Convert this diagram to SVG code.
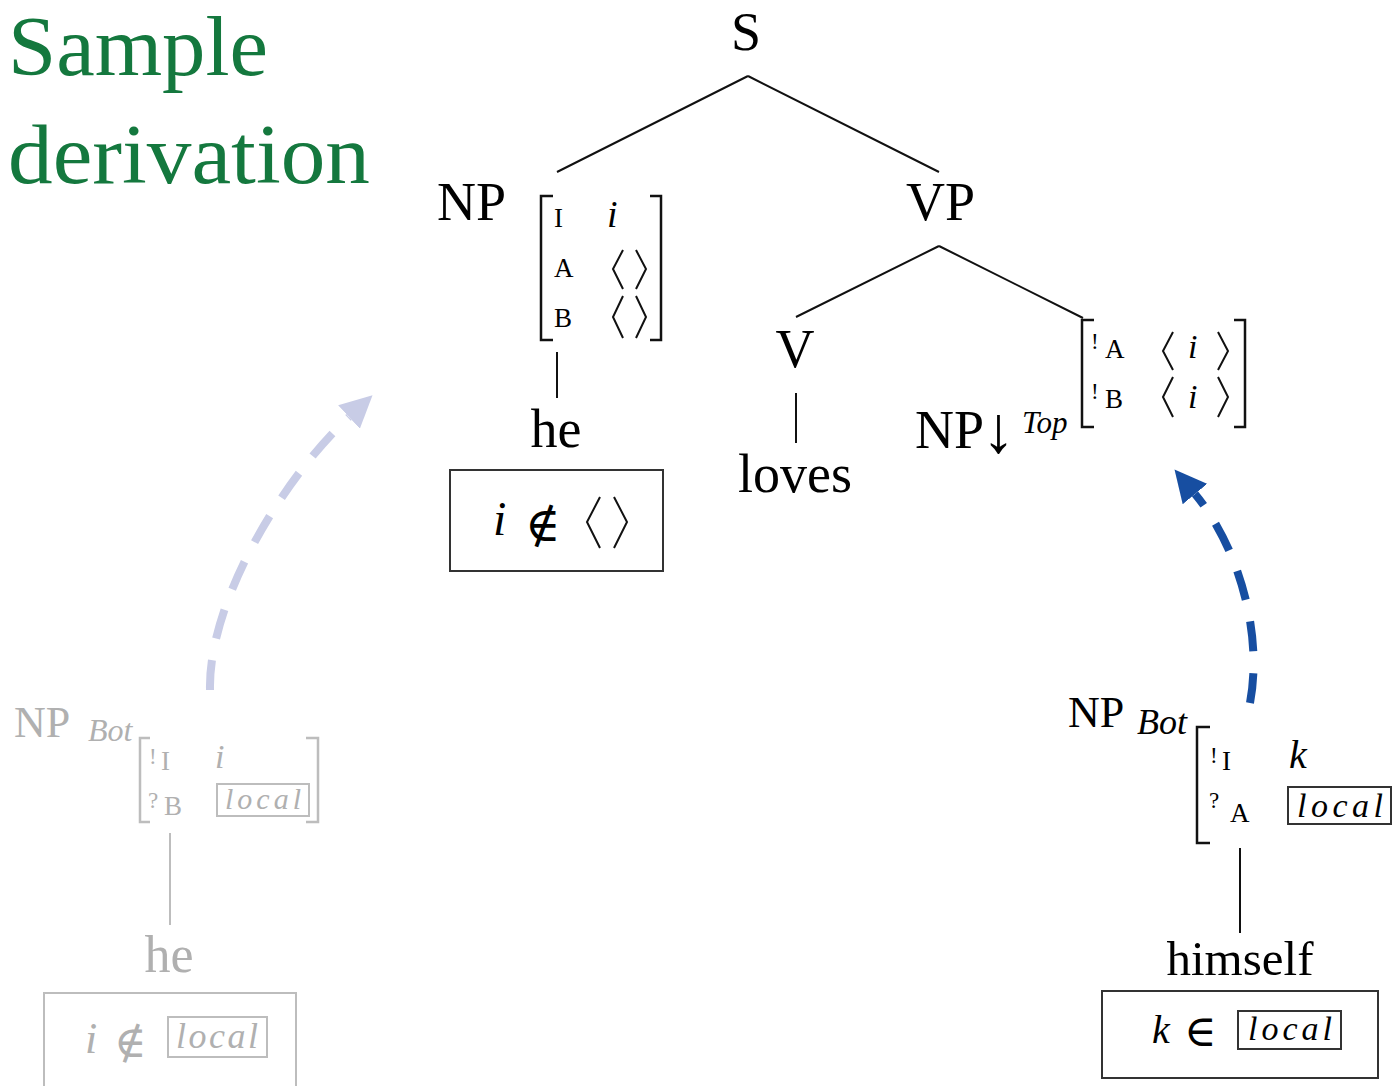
<svg xmlns="http://www.w3.org/2000/svg" width="1393" height="1086" viewBox="0 0 1393 1086">
<style>
text{font-family:"Liberation Serif","Times New Roman",serif;fill:#000}
.title{font-size:84px;fill:#14783e}
.cat{font-size:54px}
.sm{font-size:27px}
.sup{font-size:23px}
.it{font-style:italic}
.math{font-family:"DejaVu Sans","DejaVu Serif",sans-serif;font-weight:200}
.line{stroke:#111;stroke-width:2;fill:none}
.br{stroke:#111;stroke-width:2.5;fill:none}
.ang{stroke:#111;stroke-width:2;fill:none}
.box{stroke:#333;stroke-width:2;fill:none}
.grey text{fill:#b0b0b0}
.grey .line,.grey .br,.grey .box{stroke:#bdbdbd}
</style>
<defs>
<marker id="ahL" markerUnits="userSpaceOnUse" viewBox="0 0 32 32" refX="0" refY="16" markerWidth="32" markerHeight="32" orient="auto"><path d="M0,0 L32,16 L0,32 z" fill="#c8cce6"/></marker>
<marker id="ahB" markerUnits="userSpaceOnUse" viewBox="0 0 32 32" refX="0" refY="16" markerWidth="32" markerHeight="32" orient="auto"><path d="M0,0 L32,16 L0,32 z" fill="#174ea1"/></marker>
</defs>

<g id="title">
<text class="title" x="8" y="75" textLength="260" lengthAdjust="spacingAndGlyphs">Sample</text>
<text class="title" x="8" y="183" textLength="362" lengthAdjust="spacingAndGlyphs">derivation</text>
</g>

<g id="connectors">
<path class="line" d="M748,76 L557,172 M748,76 L939,172"/>
<path class="line" d="M939,246 L796,317 M939,246 L1083,318"/>
<path class="line" d="M557,352 V398"/>
<path class="line" d="M796,393 V443"/>
<path class="line" d="M1240,848 V933"/>
<path d="M170,833 V925" stroke="#bdbdbd" stroke-width="2" fill="none"/>
<path d="M210,690 C208,600 285,476 349,417" stroke="#c8cce6" stroke-width="8" fill="none" stroke-dasharray="30 22" marker-end="url(#ahL)"/>
<path d="M1250,703 C1264,628 1235,542 1195,494" stroke="#174ea1" stroke-width="8" fill="none" stroke-dasharray="30 22" marker-end="url(#ahB)"/>
</g>

<g id="node-S">
<text class="cat" x="746" y="50" text-anchor="middle">S</text>
</g>

<g id="node-NP">
<text class="cat" x="437" y="220">NP</text>
<path class="br" d="M553,196 H541 V340 H553 M650,196 H661 V340 H650"/>
<text class="sm" x="554" y="227">I</text>
<text class="sm" x="554" y="277">A</text>
<text class="sm" x="554" y="327">B</text>
<text class="it" x="607" y="227" font-size="38">i</text>
<polyline class="ang" points="623,250 613,269 623,289"/>
<polyline class="ang" points="636,250 646,269 636,289"/>
<polyline class="ang" points="623,296 613,317 623,338"/>
<polyline class="ang" points="636,296 646,317 636,338"/>
</g>

<g id="node-he">
<text class="cat" x="556" y="447" text-anchor="middle">he</text>
<rect class="box" x="450" y="470" width="213" height="101"/>
<text class="it" x="493" y="535" font-size="48">i</text>
<text class="math" x="525" y="541" font-size="48">∉</text>
<polyline class="ang" points="600,497 587,522 600,548"/>
<polyline class="ang" points="614,497 627,522 614,548"/>
</g>

<g id="node-VP">
<text class="cat" x="906" y="220">VP</text>
</g>

<g id="node-V">
<text class="cat" x="795" y="367" text-anchor="middle">V</text>
</g>

<g id="node-loves">
<text class="cat" x="795" y="492" text-anchor="middle">loves</text>
</g>

<g id="node-NPTop">
<text class="cat" x="915" y="448">NP</text>
<text x="982" y="452" font-size="66">↓</text>
<text class="it" x="1022" y="433" font-size="31">Top</text>
<path class="br" d="M1094,320 H1082 V427 H1094 M1234,320 H1245 V427 H1234"/>
<text class="sup" x="1091" y="349">!</text>
<text class="sm" x="1105" y="358">A</text>
<text class="sup" x="1091" y="399">!</text>
<text class="sm" x="1105" y="408">B</text>
<text class="it" x="1188" y="358" font-size="34">i</text>
<text class="it" x="1188" y="408" font-size="34">i</text>
<polyline class="ang" points="1173,332 1163,351 1173,370"/>
<polyline class="ang" points="1218,332 1228,351 1218,370"/>
<polyline class="ang" points="1173,377 1163,397 1173,417"/>
<polyline class="ang" points="1218,377 1228,397 1218,417"/>
</g>

<g id="node-NPBot-grey" class="grey">
<text x="14" y="737" font-size="44">NP</text>
<text class="it" x="88" y="741" font-size="32">Bot</text>
<path class="br" d="M150,738 H140 V822 H150 M306,738 H318 V822 H306"/>
<text class="sup" x="149" y="764">!</text>
<text class="sm" x="161" y="770">I</text>
<text class="it" x="215" y="768" font-size="34">i</text>
<text class="sup" x="148" y="808">?</text>
<text class="sm" x="164" y="815">B</text>
<rect class="box" x="217" y="784" width="92" height="32" stroke-width="1.5"/>
<text class="it" x="225" y="809" font-size="30" textLength="76" lengthAdjust="spacing">local</text>
</g>

<g id="node-he-grey" class="grey">
<text x="169" y="972" font-size="52" text-anchor="middle">he</text>
<rect class="box" x="44" y="993" width="252" height="100"/>
<text class="it" x="85" y="1053" font-size="44">i</text>
<text class="math" x="114" y="1057" font-size="44">∉</text>
<rect class="box" x="168" y="1017" width="99" height="40" stroke-width="1.5"/>
<text class="it" x="176" y="1048" font-size="36" textLength="82" lengthAdjust="spacing">local</text>
</g>

<g id="node-NPBot">
<text x="1068" y="727" font-size="44">NP</text>
<text class="it" x="1137" y="734" font-size="36">Bot</text>
<path class="br" d="M1210,727 H1197 V843 H1210"/>
<text class="sup" x="1210" y="763">!</text>
<text class="sm" x="1222" y="770">I</text>
<text class="it" x="1289" y="768" font-size="40">k</text>
<text class="sup" x="1209" y="808">?</text>
<text class="sm" x="1230" y="822">A</text>
<rect class="box" x="1288" y="787" width="103" height="37"/>
<text class="it" x="1297" y="817" font-size="34" textLength="86" lengthAdjust="spacing">local</text>
</g>

<g id="node-himself">
<text x="1240" y="975" font-size="49" text-anchor="middle">himself</text>
<rect class="box" x="1102" y="991" width="276" height="87"/>
<text class="it" x="1152" y="1043" font-size="40">k</text>
<text class="math" x="1184" y="1046" font-size="44">∈</text>
<rect class="box" x="1238" y="1011" width="103" height="38"/>
<text class="it" x="1248" y="1040" font-size="34" textLength="84" lengthAdjust="spacing">local</text>
</g>
</svg>
